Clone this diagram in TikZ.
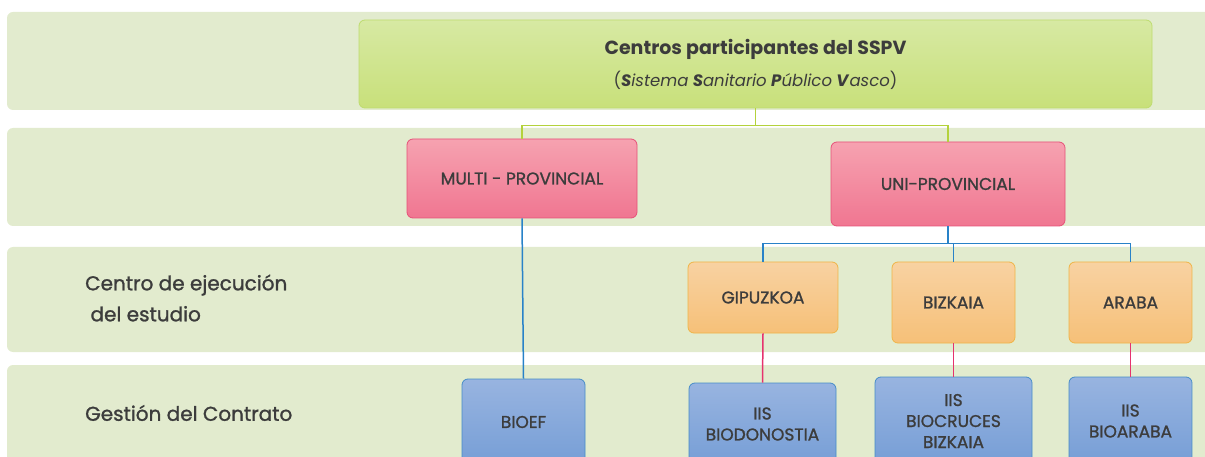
\documentclass[tikz,border=0pt]{standalone}
\usepackage{fontspec}
\setmainfont{Poppins}
\newfontfamily\boxfont{Poppins}[FakeBold=1.2]
\usepackage{tikz}
\usepackage{xcolor}

\definecolor{bandgreen}{RGB}{226,235,206}
\definecolor{txtgray}{RGB}{60,60,60}
\definecolor{lnGreen}{RGB}{180,210,60}
\definecolor{lnBlue}{RGB}{40,130,200}
\definecolor{lnPink}{RGB}{230,50,110}

\tikzset{
  box/.style={rounded corners=6pt, inner sep=0pt, align=center, text=txtgray, line width=0.8pt,
    font=\boxfont\fontsize{17}{21}\selectfont},
  topbox/.style={box, top color={rgb,255:red,215;green,233;blue,163}, bottom color={rgb,255:red,200;green,224;blue,122},
    draw={rgb,255:red,190;green,220;blue,110}},
  pinkbox/.style={box, top color={rgb,255:red,246;green,162;blue,176}, bottom color={rgb,255:red,240;green,118;blue,145},
    draw={rgb,255:red,230;green,80;blue,120}},
  orangebox/.style={box, top color={rgb,255:red,248;green,210;blue,162}, bottom color={rgb,255:red,246;green,192;blue,120},
    draw={rgb,255:red,240;green,180;blue,70}},
  bluebox/.style={box, top color={rgb,255:red,152;green,180;blue,224}, bottom color={rgb,255:red,118;green,158;blue,214},
    draw={rgb,255:red,70;green,140;blue,200}},
  rowlabel/.style={anchor=west, align=left, text=txtgray, inner sep=0pt,
    font=\boxfont\fontsize{20}{31}\selectfont},
  link/.style={line width=1.5pt},
}

\begin{document}
\begin{tikzpicture}[x=1pt,y=-1pt]
	    \useasboundingbox (0,0) rectangle (1205,457);
	    \clip (0,0) rectangle (1205,457);

            % draw bands
	    \fill[bandgreen, rounded corners=6pt] (7,12) rectangle (1220,110);
	    \fill[bandgreen, rounded corners=6pt] (7,128) rectangle (1220,226);
	    \fill[bandgreen, rounded corners=6pt] (7,247) rectangle (1220,352);
	    \fill[bandgreen, rounded corners=6pt] (7,365) rectangle (1220,480);

            % draw row labels
	    \node[rowlabel] (ejec) at (85,298) {Centro de ejecución\\ \ del estudio};
	    \node[rowlabel] (gest) at (85,413) {Gestión del Contrato};

            % draw boxes
	    \node[topbox, minimum width=793pt, minimum height=88pt, font=\fontsize{19}{32}\selectfont] (sspv) at (755.5,64)
	      {\textbf{Centros participantes del SSPV}\\
	       {\fontsize{16.5}{16.5}\selectfont(\textbf{\textit{S}}\textit{istema} \textbf{\textit{S}}\textit{anitario} \textbf{\textit{P}}\textit{úblico} \textbf{\textit{V}}\textit{asco})}};
	    \node[pinkbox, minimum width=230pt, minimum height=79pt] (multi) at (522,178.5) {MULTI - PROVINCIAL};
	    \node[pinkbox, minimum width=234pt, minimum height=84pt] (uni) at (948,184) {UNI-PROVINCIAL};
	    \node[orangebox, minimum width=150pt, minimum height=71pt] (gipuzkoa) at (763,297.5) {GIPUZKOA};
	    \node[orangebox, minimum width=123pt, minimum height=81pt] (bizkaia) at (953.5,302.5) {BIZKAIA};
	    \node[orangebox, minimum width=123pt, minimum height=81pt] (araba) at (1130.5,302.5) {ARABA};
	    \node[bluebox, minimum width=123pt, minimum height=86pt] (bioef) at (523.5,422) {BIOEF};
	    \node[bluebox, minimum width=147pt, minimum height=82pt] (biodonostia) at (762.5,424) {IIS\\BIODONOSTIA};
	    \node[bluebox, minimum width=157pt, minimum height=88pt] (biocruces) at (953.5,421) {IIS\\BIOCRUCES\\BIZKAIA};
	    \node[bluebox, minimum width=123pt, minimum height=88pt] (bioaraba) at (1130.5,421) {IIS\\BIOARABA};

            % draw connectors
            \draw[lnGreen, link] (sspv.south) -- ++(0,17) -| (multi.north);
            \draw[lnGreen, link] (sspv.south) -- ++(0,17) -| (uni.north);
            \draw[lnBlue, link] (multi.south) -- (bioef.north);
            \draw[lnBlue, link] (uni.south) -- ++(0,17) -| (gipuzkoa.north);
            \draw[lnBlue, link] (uni.south) -- ++(0,17) -| (bizkaia.north);
            \draw[lnBlue, link] (uni.south) -- ++(0,17) -| (araba.north);
            \draw[lnPink, link] (gipuzkoa.south) -- (biodonostia.north);
            \draw[lnPink, link] (bizkaia.south) -- (biocruces.north);
            \draw[lnPink, link] (araba.south) -- (bioaraba.north);
        \end{tikzpicture}
\end{document}
